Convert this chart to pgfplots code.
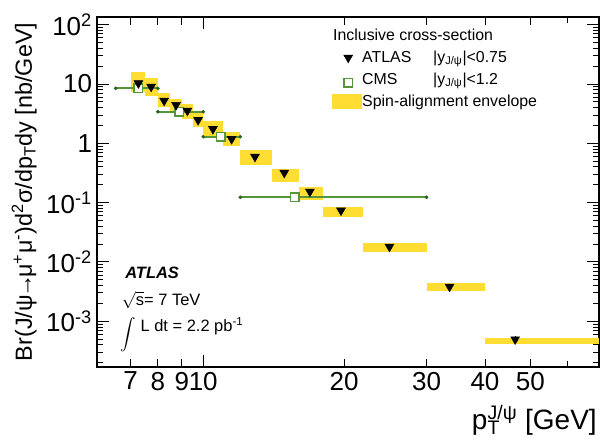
\documentclass[border=0pt]{standalone}
\usepackage{fontspec}
\setmainfont{Liberation Sans}
\usepackage{graphicx}
\usepackage{pgfplots}
\pgfplotsset{compat=1.18}
\usepackage{pgfplotstable}
\definecolor{envyellow}{RGB}{255,221,50}
\definecolor{cmsgreen}{RGB}{85,150,60}
\definecolor{cmsdark}{RGB}{40,100,30}

\pgfplotstableread{
x y exm exp
7.27 8.46 0.77 0.73
8.89 3.41 0.89 1.11
10.9 1.29 0.9 1.1
15.7 0.123 3.7 14.3
}\cmsdata

\pgfplotstableread{
x y ey
7.27 10.3 0.2
7.74 9.0 0.2
8.25 5.23 0.1
8.75 4.43 0.1
9.25 3.55 0.07
9.75 2.47 0.05
10.49 1.74 0.04
11.5 1.18 0.03
12.9 0.594 0.015
14.9 0.319 0.008
16.9 0.153 0.005
19.7 0.0736 0.003
25.0 0.0180 0.0008
33.6 0.00382 0.0002
46.4 0.000495 0.00007
}\atlasdata

\pgfplotsset{
  env/.style={draw=none, fill=envyellow, forget plot},
  atlaslegend/.style={legend image code/.code={
      \path[draw=none, fill=none] (0cm,-0.2cm) rectangle (0.75cm,0.2cm);
      \draw[black, mark=triangle*, mark size=3.6pt, mark options={rotate=180, fill=black, draw=black}, only marks] plot coordinates {(0.4cm,0cm)};}},
  cmslegend/.style={legend image code/.code={
      \path[draw=none, fill=none] (0cm,-0.2cm) rectangle (0.75cm,0.2cm);
      \draw[cmsgreen, mark=square*, mark size=3.0pt, mark options={fill=white, draw=cmsgreen, line width=1pt}, only marks] plot coordinates {(0.4cm,-0.08cm)};}},
  envlegend/.style={legend image code/.code={
      \fill[envyellow, draw=none] (0cm,-0.19cm) rectangle (0.75cm,0.19cm);}},
}

\begin{document}
\begin{tikzpicture}
\useasboundingbox (-2.425cm,-2.0cm) rectangle (12.575cm,9.175cm);
\begin{axis}[
  scale only axis,
  width=12.55cm, height=8.75cm,
  xmode=log, ymode=log,
  xmin=5.93, xmax=70.1,
  ymin=1.69e-4, ymax=135,
  /pgf/number format/assume math mode=true,
  axis line style={line width=0.8pt},
  every tick/.style={black, line width=0.6pt},
  tick align=inside,
  major tick length=0.3cm,
  minor tick length=0.15cm,
  xtick={10},
  xticklabels={10},
  minor xtick={60,70},
  extra x ticks={7,8,9,20,30,40,50},
  extra x tick labels={7,8,9,20,30,40,50},
  extra x tick style={major tick length=0.2cm},
  ytick={1e-3,1e-2,1e-1,1,10,100},
  yticklabels={10\textsuperscript{-3},10\textsuperscript{-2},10\textsuperscript{-1},1,10,10\textsuperscript{2}},
  minor ytick={2e-4,3e-4,4e-4,5e-4,6e-4,7e-4,8e-4,9e-4,
               2e-3,3e-3,4e-3,5e-3,6e-3,7e-3,8e-3,9e-3,
               2e-2,3e-2,4e-2,5e-2,6e-2,7e-2,8e-2,9e-2,
               2e-1,3e-1,4e-1,5e-1,6e-1,7e-1,8e-1,9e-1,
               2,3,4,5,6,7,8,9,20,30,40,50,60,70,80,90},
  ticklabel style={font=\fontsize{18.5}{21}\selectfont},
  xlabel={p\rlap{\textsubscript{T}}\textsuperscript{J/ψ} [GeV]},
  xlabel style={at={(axis description cs:0.996,-0.18)}, anchor=base east, inner sep=0pt, font=\fontsize{19.9}{24}\selectfont},
  ylabel={Br(J/ψ\kern-0.12em→\kern-0.12emμ\textsuperscript{+}μ\textsuperscript{-})d\textsuperscript{2}σ/dp\textsubscript{T}dy [nb/GeV]},
  ylabel style={at={(axis description cs:-0.1295,0.5)}, anchor=base, inner sep=0pt, font=\fontsize{16.6}{20}\selectfont},
  legend style={at={(axis description cs:0.468,0.9714)}, anchor=north west, draw=none, fill=none, inner sep=0pt,
    font=\fontsize{11.3}{14}\selectfont, row sep=0.13cm,
    nodes={inner sep=0pt, text height=0.32cm, text depth=0.1cm}},
  legend cell align=left,
  /tikz/every even column/.append style={column sep=0.15cm},
]
% spin-alignment envelopes
\addplot[env] coordinates {(7,7.47) (7.5,7.47) (7.5,16.25) (7,16.25)} -- cycle;
\addplot[env] coordinates {(7.5,6.28) (8,6.28) (8,12.6) (7.5,12.6)} -- cycle;
\addplot[env] coordinates {(8,4.09) (8.5,4.09) (8.5,7.05) (8,7.05)} -- cycle;
\addplot[env] coordinates {(8.5,3.24) (9,3.24) (9,5.69) (8.5,5.69)} -- cycle;
\addplot[env] coordinates {(9,2.57) (9.5,2.57) (9.5,4.60) (9,4.60)} -- cycle;
\addplot[env] coordinates {(9.5,1.88) (10,1.88) (10,3.24) (9.5,3.24)} -- cycle;
\addplot[env] coordinates {(10,1.28) (11,1.28) (11,2.38) (10,2.38)} -- cycle;
\addplot[env] coordinates {(11,0.90) (12,0.90) (12,1.55) (11,1.55)} -- cycle;
\addplot[env] coordinates {(12,0.431) (14,0.431) (14,0.771) (12,0.771)} -- cycle;
\addplot[env] coordinates {(14,0.2225) (16,0.2225) (16,0.369) (14,0.369)} -- cycle;
\addplot[env] coordinates {(16,0.1106) (18,0.1106) (18,0.1833) (16,0.1833)} -- cycle;
\addplot[env] coordinates {(18,0.0572) (22,0.0572) (22,0.0860) (18,0.0860)} -- cycle;
\addplot[env] coordinates {(22,0.01497) (30,0.01497) (30,0.02124) (22,0.02124)} -- cycle;
\addplot[env] coordinates {(30,0.00323) (40,0.00323) (40,0.00441) (30,0.00441)} -- cycle;
\addplot[env] coordinates {(40,0.000412) (70,0.000412) (70,0.000531) (40,0.000531)} -- cycle;

% CMS
\addplot[forget plot, only marks, cmsgreen, mark=square*, mark size=3.0pt,
  mark options={fill=white, draw=cmsgreen, line width=1pt},
  error bars/.cd, x dir=both, x explicit,
  error bar style={line width=1.3pt, cmsgreen},
  error mark=*, error mark options={mark size=1.1pt, fill=cmsdark, draw=cmsdark}]
  table[x=x, y=y, x error minus=exm, x error plus=exp] {\cmsdata};

% ATLAS
\addplot[forget plot, only marks, black, mark=triangle*, mark size=3.6pt,
  mark options={rotate=180, fill=black, draw=black},
  error bars/.cd, y dir=both, y explicit,
  error bar style={black, line width=0.8pt}, error mark=none]
  table[x=x, y=y, y error=ey] {\atlasdata};

\addlegendimage{empty legend}
\addlegendentry{\hspace*{-0.725cm}Inclusive cross-section}
\addlegendimage{atlaslegend}
\addlegendentry{\makebox[1.775cm][l]{ATLAS}|y\textsubscript{J/ψ}|<0.75}
\addlegendimage{cmslegend}
\addlegendentry{\makebox[1.775cm][l]{CMS}|y\textsubscript{J/ψ}|<1.2}
\addlegendimage{envlegend}
\addlegendentry{Spin-alignment envelope}

\node[anchor=base west, inner sep=0pt, font=\bfseries\itshape\fontsize{11.7}{14}\selectfont] at (axis description cs:0.0558,0.254) {ATLAS};
\node[anchor=base west, inner sep=0pt, font=\fontsize{11.7}{14}\selectfont] at (axis description cs:0.049,0.177) {$\sqrt{\mbox{s}}$= 7 TeV};
\node[anchor=base west, inner sep=0pt, font=\fontsize{11.7}{14}\selectfont] at (axis description cs:0.046,0.100) {\raisebox{-0.18cm}[0pt][0pt]{\scalebox{1.1}{$\displaystyle\int$}}\hspace{0.12cm}L dt = 2.2 pb\textsuperscript{-1}};
\end{axis}
\end{tikzpicture}
\end{document}
